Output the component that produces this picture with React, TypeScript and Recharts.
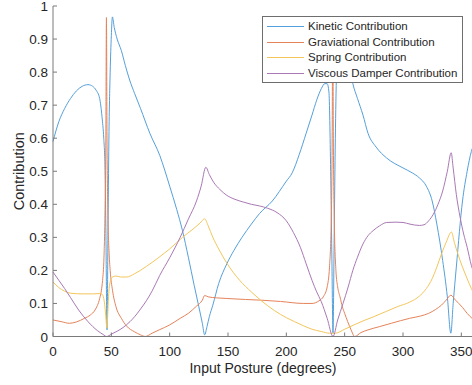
import React from 'react';
import { LineChart, Line, XAxis, YAxis } from 'recharts';

// [posture in degrees, contribution]
const KINETIC: [number, number][] = [
  [0, 0.59], [5, 0.65], [10, 0.69], [15, 0.72], [20, 0.743], [25, 0.757], [30, 0.762], [34, 0.757],
  [37, 0.745], [40, 0.72], [42, 0.665], [43.5, 0.6], [44.5, 0.52], [45.3, 0.33], [46.3, 0.02],
  [47.2, 0.35], [48, 0.62], [49, 0.8], [50, 0.91], [50.9, 0.967], [52.5, 0.935], [55, 0.9],
  [58.6, 0.865], [62, 0.82], [65.7, 0.776], [70, 0.735], [75, 0.69], [83, 0.615], [91.5, 0.548],
  [100, 0.455], [106, 0.385], [111, 0.32], [116, 0.24], [121, 0.155], [125, 0.09], [128, 0.04],
  [130, 0.005], [132, 0.03], [134, 0.06], [137, 0.095], [142, 0.16], [149, 0.22], [155, 0.26],
  [162, 0.3], [170, 0.34], [177, 0.372], [188, 0.41], [200, 0.47], [205, 0.495], [211, 0.55],
  [217, 0.615], [222, 0.67], [226, 0.715], [230, 0.75], [233, 0.765], [235, 0.765], [236.5, 0.74],
  [238, 0.5], [239, 0.25], [240, 0.01], [241, 0.3], [242, 0.6], [243, 0.8], [244.5, 0.92],
  [246, 0.96], [249, 0.92], [253, 0.84], [257, 0.765], [261, 0.72], [265.7, 0.67], [270, 0.615],
  [277, 0.573], [286, 0.54], [300, 0.51], [308, 0.495], [314, 0.48], [320, 0.455], [325, 0.41],
  [329, 0.34], [334, 0.23], [338, 0.12], [341, 0.01], [343, 0.1], [345.7, 0.21], [351, 0.41],
  [355, 0.5], [358.6, 0.56], [360, 0.575],
];

const GRAVITATIONAL: [number, number][] = [
  [0, 0.05], [7, 0.045], [14, 0.04], [20, 0.044], [27, 0.055], [32, 0.065], [36, 0.08], [40, 0.115],
  [41.5, 0.14], [42.5, 0.17], [43.7, 0.24], [44.6, 0.38], [45.3, 0.6], [45.8, 0.965], [46.3, 0.6],
  [47, 0.38], [48, 0.26], [49, 0.2], [51, 0.14], [54, 0.09], [58.6, 0.055], [63, 0.032], [70, 0.014],
  [75, 0.005], [79, 0], [85, 0.01], [91, 0.02], [100, 0.035], [109, 0.055], [116, 0.07], [123, 0.092],
  [128, 0.11], [130, 0.124], [133, 0.12], [140, 0.117], [149, 0.115], [165, 0.112], [178, 0.11],
  [195, 0.106], [215, 0.1], [222, 0.1], [228, 0.108], [232, 0.122], [235, 0.15], [237, 0.21],
  [238.5, 0.35], [239.3, 0.6], [239.8, 0.965], [240.3, 0.6], [241.1, 0.35], [242.5, 0.2],
  [244, 0.15], [246, 0.12], [248, 0.09], [250, 0.07], [252.6, 0.045], [255.5, 0.02], [258.6, 0],
  [264, 0.012], [270, 0.02], [280, 0.03], [290, 0.04], [305.7, 0.055], [315, 0.062], [322, 0.07],
  [328, 0.082], [333, 0.095], [337, 0.11], [341, 0.125], [345, 0.11], [351, 0.088], [355, 0.07],
  [360, 0.052],
];

const SPRING: [number, number][] = [
  [0, 0.165], [5, 0.148], [10, 0.137], [15, 0.131], [25, 0.129], [35, 0.129], [40, 0.13], [42, 0.128],
  [43.5, 0.115], [44.5, 0.09], [45.5, 0.05], [46.2, 0.025], [46.8, 0.06], [47.6, 0.12], [49, 0.165],
  [51, 0.18], [54, 0.183], [58, 0.18], [63, 0.18], [70, 0.19], [80, 0.212], [91, 0.24], [100, 0.265],
  [111, 0.3], [120, 0.325], [126, 0.343], [130, 0.356], [133, 0.335], [137, 0.3], [142, 0.265],
  [149, 0.222], [160, 0.17], [170, 0.135], [178, 0.11], [190, 0.078], [200, 0.057], [207, 0.045],
  [215, 0.032], [222, 0.022], [230, 0.015], [237, 0.01], [242, 0.01], [250, 0.022], [258, 0.035],
  [265.7, 0.047], [275, 0.06], [285, 0.075], [295, 0.09], [305.7, 0.104], [314, 0.122], [320, 0.145],
  [325, 0.175], [329, 0.21], [333, 0.25], [337, 0.285], [341.5, 0.316], [344, 0.285], [347, 0.25],
  [351, 0.21], [355, 0.175], [358.6, 0.145], [360, 0.135],
];

const VISCOUS: [number, number][] = [
  [0, 0.195], [5, 0.17], [10, 0.145], [15, 0.118], [22, 0.08], [30, 0.045], [38, 0.018], [43, 0.006],
  [46, 0], [50, 0.007], [55, 0.016], [60, 0.027], [66, 0.045], [70, 0.06], [75, 0.083], [80, 0.108],
  [85, 0.138], [91.5, 0.185], [100, 0.238], [109, 0.3], [116, 0.355], [123, 0.41], [127, 0.455],
  [131, 0.512], [134, 0.49], [138, 0.465], [143, 0.445], [149, 0.427], [156, 0.415], [163, 0.407],
  [170, 0.4], [177, 0.395], [184, 0.388], [192, 0.375], [200, 0.35], [206, 0.315], [212, 0.27],
  [217, 0.22], [222, 0.17], [226, 0.135], [230, 0.105], [235, 0.055], [240, 0], [244, 0.05],
  [248.6, 0.1], [253, 0.15], [257, 0.2], [261, 0.24], [265.7, 0.28], [270, 0.305], [274.3, 0.32],
  [280, 0.335], [286, 0.345], [294, 0.346], [300, 0.345], [306, 0.34], [314, 0.336], [318, 0.338],
  [322, 0.35], [326, 0.37], [330, 0.4], [334, 0.44], [338, 0.5], [341.3, 0.556], [343, 0.51],
  [345.7, 0.43], [349, 0.36], [352, 0.31], [355, 0.27], [358.6, 0.215], [360, 0.2],
];

const X_TICKS = [0, 50, 100, 150, 200, 250, 300, 350];
const Y_TICKS = [0, 0.1, 0.2, 0.3, 0.4, 0.5, 0.6, 0.7, 0.8, 0.9, 1];

const SERIES = [
  { name: 'Kinetic Contribution', points: KINETIC, color: '#55a0da' },
  { name: 'Graviational Contribution', points: GRAVITATIONAL, color: '#e5835a' },
  { name: 'Spring Contribution', points: SPRING, color: '#f3c65c' },
  { name: 'Viscous Damper Contribution', points: VISCOUS, color: '#a979b5' },
];

const FONT = '"Liberation Sans", Arial, Helvetica, sans-serif';
const AXIS = '#7a7a7a';
const TEXT = '#262626';

const toPoints = (arr: [number, number][]) => arr.map(([x, y]) => ({ x, y }));

function BottomTick({ x, y, payload }: any) {
  return (
    <g>
      <line x1={x} x2={x} y1={y} y2={y - 4} stroke={AXIS} />
      <text x={x} y={y + 19} textAnchor="middle" fontSize={13.5} fill={TEXT} fontFamily={FONT}>
        {payload.value}
      </text>
    </g>
  );
}

function TopTick({ x, y }: any) {
  return <line x1={x} x2={x} y1={y} y2={y + 4} stroke={AXIS} />;
}

function LeftTick({ x, y, payload }: any) {
  return (
    <g>
      <line x1={x} x2={x + 4} y1={y} y2={y} stroke={AXIS} />
      <text x={x - 5} y={y + 5} textAnchor="end" fontSize={13.5} fill={TEXT} fontFamily={FONT}>
        {payload.value}
      </text>
    </g>
  );
}

function RightTick({ x, y }: any) {
  return <line x1={x} x2={x - 4} y1={y} y2={y} stroke={AXIS} />;
}

export default function App() {
  return (
    <div style={{ position: 'absolute', left: 0, top: 0, width: 472, height: 385, overflow: 'hidden', background: '#fff' }}>
      <LineChart width={475} height={385} margin={{ top: 6, right: 2, bottom: 0, left: 0 }}>
        <XAxis
          dataKey="x"
          type="number"
          domain={[0, 360]}
          ticks={X_TICKS}
          height={48.5}
          tickSize={0}
          tickMargin={0}
          tickLine={false}
          axisLine={{ stroke: AXIS }}
          tick={<BottomTick />}
          interval={0}
          label={{
            content: ({ viewBox }: any) => (
              <text x={viewBox.x + viewBox.width / 2} y={372.5} textAnchor="middle" fontSize={14} fill={TEXT} fontFamily={FONT}>
                Input Posture (degrees)
              </text>
            ),
          }}
        />
        <XAxis
          xAxisId="top"
          orientation="top"
          dataKey="x"
          type="number"
          domain={[0, 360]}
          ticks={X_TICKS}
          height={0}
          tickSize={0}
          tickMargin={0}
          tickLine={false}
          axisLine={{ stroke: AXIS }}
          tick={<TopTick />}
          interval={0}
        />
        <YAxis
          type="number"
          domain={[0, 1]}
          ticks={Y_TICKS}
          width={53}
          tickSize={0}
          tickMargin={0}
          tickLine={false}
          axisLine={{ stroke: AXIS }}
          tick={<LeftTick />}
          interval={0}
          label={{
            content: ({ viewBox }: any) => {
              const cy = viewBox.y + viewBox.height / 2;
              return (
                <text x={23.5} y={cy} transform={`rotate(-90, 23.5, ${cy})`} textAnchor="middle" fontSize={14.5} fill={TEXT} fontFamily={FONT}>
                  Contribution
                </text>
              );
            },
          }}
        />
        <YAxis
          yAxisId="right"
          orientation="right"
          type="number"
          domain={[0, 1]}
          ticks={Y_TICKS}
          width={0}
          tickSize={0}
          tickMargin={0}
          tickLine={false}
          axisLine={{ stroke: AXIS }}
          tick={<RightTick />}
          interval={0}
        />
        {SERIES.map((s) => (
          <Line
            key={s.name}
            name={s.name}
            data={toPoints(s.points)}
            dataKey="y"
            type="monotoneX"
            stroke={s.color}
            strokeWidth={1}
            dot={false}
            activeDot={false}
            isAnimationActive={false}
          />
        ))}
      </LineChart>

      <div
        style={{
          position: 'absolute',
          left: 262,
          top: 16,
          width: 201,
          height: 67,
          boxSizing: 'border-box',
          border: '1px solid #6e6e6e',
          background: '#fff',
          fontFamily: FONT,
          fontSize: 11.5,
          color: TEXT,
        }}
      >
        {SERIES.map((s, i) => (
          <div key={s.name} style={{ position: 'absolute', left: 0, top: 2 + i * 15.6, height: 15.6, width: '100%' }}>
            <div style={{ position: 'absolute', left: 4, top: 7, width: 37, height: 1, background: s.color }} />
            <span style={{ position: 'absolute', left: 45, top: 0, lineHeight: '15.6px', whiteSpace: 'nowrap' }}>{s.name}</span>
          </div>
        ))}
      </div>
    </div>
  );
}
